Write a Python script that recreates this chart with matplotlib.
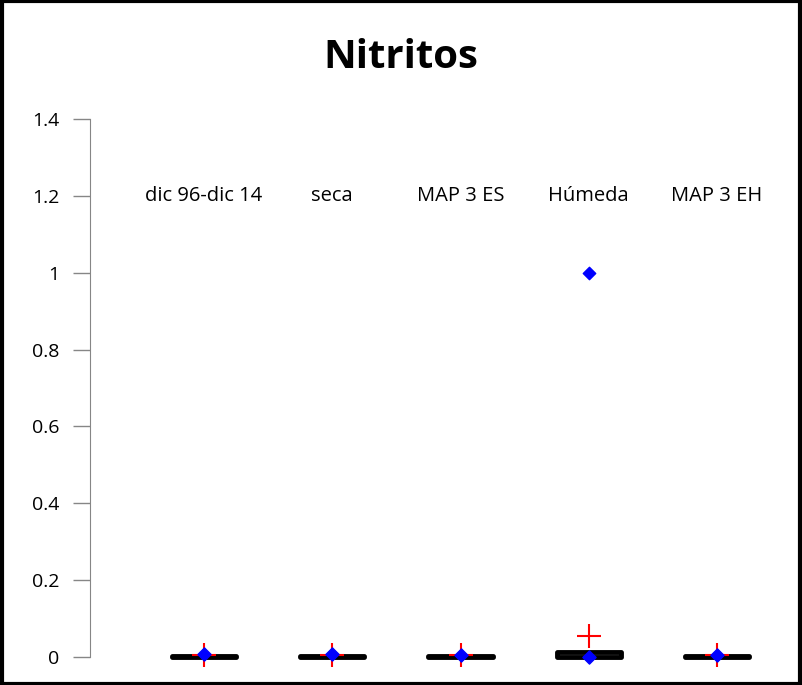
import matplotlib.pyplot as plt
from matplotlib.patches import Rectangle

plt.rcParams['font.family'] = ['Open Sans', 'DejaVu Sans']

# data
categorias = ['dic 96-dic 14', 'seca', 'MAP 3 ES', 'Húmeda', 'MAP 3 EH']
q1 = [0.0, 0.0, 0.0, 0.0, 0.0]
q3 = [0.002, 0.002, 0.002, 0.012, 0.002]
medias = [0.008, 0.008, 0.005, 0.0, 0.005]
maximos = [None, None, None, 1.0, None]
cruces = [0.005, 0.005, 0.005, 0.055, 0.005]

pos = list(range(1, len(categorias) + 1))

fig = plt.figure(figsize=(8.02, 6.85), dpi=100)
ax = fig.add_axes([90 / 802, 28 / 685, 700 / 802, 538 / 685])

ancho = 0.5
for x, a, b in zip(pos, q1, q3):
    ax.add_patch(Rectangle((x - ancho / 2, a), ancho, b - a, facecolor='white',
                           edgecolor='black', lw=3.5, joinstyle='round',
                           zorder=2, clip_on=False))

ax.scatter(pos, cruces, marker='+', s=300, color='red', lw=1.5, zorder=3,
           clip_on=False)
ax.scatter(pos, medias, marker='D', s=45, color='blue', zorder=4, clip_on=False)
xs = [x for x, m in zip(pos, maximos) if m is not None]
ys = [m for m in maximos if m is not None]
ax.scatter(xs, ys, marker='D', s=40, color='blue', zorder=4)

for x, c in zip(pos, categorias):
    ax.text(x, 1.2, c, ha='center', va='center', fontsize=14.5)

ax.set_xlim(0.11, 5.57)
ax.set_ylim(0, 1.4)
ax.set_yticks([0, 0.2, 0.4, 0.6, 0.8, 1, 1.2, 1.4])
ax.set_yticklabels(['0', '0.2', '0.4', '0.6', '0.8', '1', '1.2', '1.4'])
ax.set_xticks([])
for s in ['top', 'right', 'bottom']:
    ax.spines[s].set_visible(False)
ax.spines['left'].set_color('#868686')
ax.tick_params(axis='y', colors='#868686', length=12, width=1, labelsize=14,
               labelcolor='black', pad=10)

fig.text(0.5, 1 - 58 / 685, 'Nitritos', ha='center', va='center',
         fontsize=29, fontweight='bold')

fig.add_artist(Rectangle((0.002, 0.002), 0.996, 0.996, transform=fig.transFigure,
                         fill=False, edgecolor='black', lw=3))

fig.savefig('out.png', dpi=100)
